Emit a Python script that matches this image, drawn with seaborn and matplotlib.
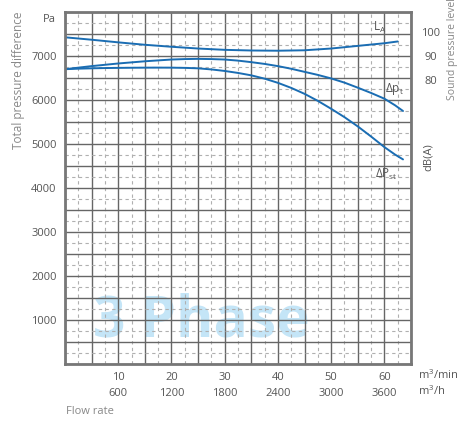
import numpy as np
import pandas as pd
import matplotlib
matplotlib.use("Agg")
import matplotlib.pyplot as plt
import seaborn as sns

# Curve data (flow in m3/min, pressure in Pa)
flow = [0, 2.5, 5, 7.5, 10, 12.5, 15, 17.5, 20, 22.5, 25, 27.5, 30, 32.5, 35, 37.5,
        40, 42.5, 45, 47.5, 50, 52.5, 55, 57.5, 60, 62, 63.5]
dp_total = [6700, 6735, 6770, 6800, 6830, 6855, 6880, 6900, 6920, 6930, 6935, 6930,
            6920, 6895, 6860, 6820, 6770, 6710, 6640, 6570, 6490, 6395, 6280, 6160,
            6030, 5880, 5750]
dp_static = [6700, 6712, 6720, 6726, 6730, 6733, 6735, 6736, 6735, 6730, 6720, 6695,
             6660, 6615, 6560, 6485, 6390, 6275, 6140, 5980, 5800, 5610, 5400, 5170,
             4930, 4760, 4650]
flow_la = [0, 5, 10, 15, 20, 25, 30, 35, 40, 45, 50, 55, 60, 62.5]
sound_la = [7425, 7370, 7310, 7255, 7210, 7170, 7140, 7125, 7120, 7130, 7170, 7230, 7290, 7330]

# Axis labels
x_min_labels = ["10", "20", "30", "40", "50", "60"]
x_h_labels = ["600", "1200", "1800", "2400", "3000", "3600"]
y_labels = ["1000", "2000", "3000", "4000", "5000", "6000", "7000"]
db_labels = ["80", "90", "100"]

sns.set_style("white")
plt.rcParams['font.family'] = ['Open Sans', 'DejaVu Sans']
plt.rcParams['mathtext.default'] = 'regular'

txt = '#555555'
blue = '#1a6db3'

fig = plt.figure(figsize=(4.58, 4.21), dpi=100)
ax = fig.add_axes([65 / 458, 1 - 364 / 421, 346 / 458, 352 / 421])

# watermark, behind the grid
ax.text(25.6, 960, "3 Phase", fontsize=41, fontweight='bold', color='#c4e5f7',
        ha='center', va='center', zorder=0.1, family='Open Sans')

df = pd.DataFrame({'flow': flow, 'dpt': dp_total, 'dpst': dp_static})
df_la = pd.DataFrame({'flow': flow_la, 'la': sound_la})
sns.lineplot(data=df, x='flow', y='dpt', color=blue, lw=1.4, ax=ax, zorder=5)
sns.lineplot(data=df, x='flow', y='dpst', color=blue, lw=1.4, ax=ax, zorder=5)
sns.lineplot(data=df_la, x='flow', y='la', color=blue, lw=1.4, ax=ax, zorder=5)

ax.set_xlim(0, 65)
ax.set_ylim(0, 8000)

# grid: solid every 5 / 500, dashed in between
ax.set_xticks(np.arange(0, 66, 5))
ax.set_xticks(np.arange(2.5, 65, 5), minor=True)
ax.set_yticks(np.arange(0, 8001, 500))
ax.set_yticks(np.arange(250, 8000, 500), minor=True)
ax.grid(which='major', color='#666666', lw=1.0, ls='-')
ax.grid(which='minor', color='#b0b0b0', lw=0.8, ls=(0, (3, 3)))
ax.set_axisbelow(True)
ax.tick_params(which='both', length=0)

xl = []
for v in np.arange(0, 66, 5):
    s = str(int(v))
    if s in x_min_labels:
        xl.append(s + "\n" + x_h_labels[x_min_labels.index(s)])
    else:
        xl.append("")
ax.set_xticklabels(xl, fontsize=8, color=txt, linespacing=1.55)
ax.tick_params(axis='x', pad=6)

yl = []
for v in np.arange(0, 8001, 500):
    s = str(int(v))
    yl.append(s if s in y_labels else "")
ax.set_yticklabels(yl, fontsize=8, color=txt)
ax.tick_params(axis='y', pad=6)
ax.set_xlabel("")
ax.set_ylabel("")

for sp in ax.spines.values():
    sp.set_color('#777777')
    sp.set_linewidth(2)
    sp.set_zorder(6)

# curve labels
ax.text(57.8, 7560, "$L_A$", fontsize=8.5, color=txt, zorder=7)
ax.text(60.2, 6180, "$\\Delta p_t$", fontsize=8.5, color=txt, zorder=7)
ax.text(58.3, 4230, "$\\Delta P_{st}$", fontsize=8.5, color=txt, zorder=7)

# right side sound pressure scale
def fy(py):
    return 1 - py / 421

for lab, py in zip(db_labels, [81, 58, 33]):
    fig.text(431 / 458, fy(py), lab, fontsize=8, color=txt, ha='center', va='center')
fig.text(428 / 458, fy(157), "dB(A)", fontsize=8, color=txt, rotation=90, ha='center', va='center')
fig.text(453 / 458, fy(100), "Sound pressure level", fontsize=7.5, color='#888888', rotation=90,
         ha='center', va='bottom')

# left side labels
fig.text(19 / 458, fy(80), "Total pressure difference", fontsize=8.5, color='#888888',
         rotation=90, ha='center', va='center')
fig.text(56 / 458, fy(19), "Pa", fontsize=8, color=txt, ha='right', va='center')

# bottom unit labels
fig.text(418 / 458, fy(375), "m$^3$/min", fontsize=8, color=txt, ha='left', va='center')
fig.text(418 / 458, fy(391), "m$^3$/h", fontsize=8, color=txt, ha='left', va='center')
fig.text(66 / 458, fy(411), "Flow rate", fontsize=8, color='#888888', ha='left', va='center')

fig.savefig("out.png", dpi=100)
